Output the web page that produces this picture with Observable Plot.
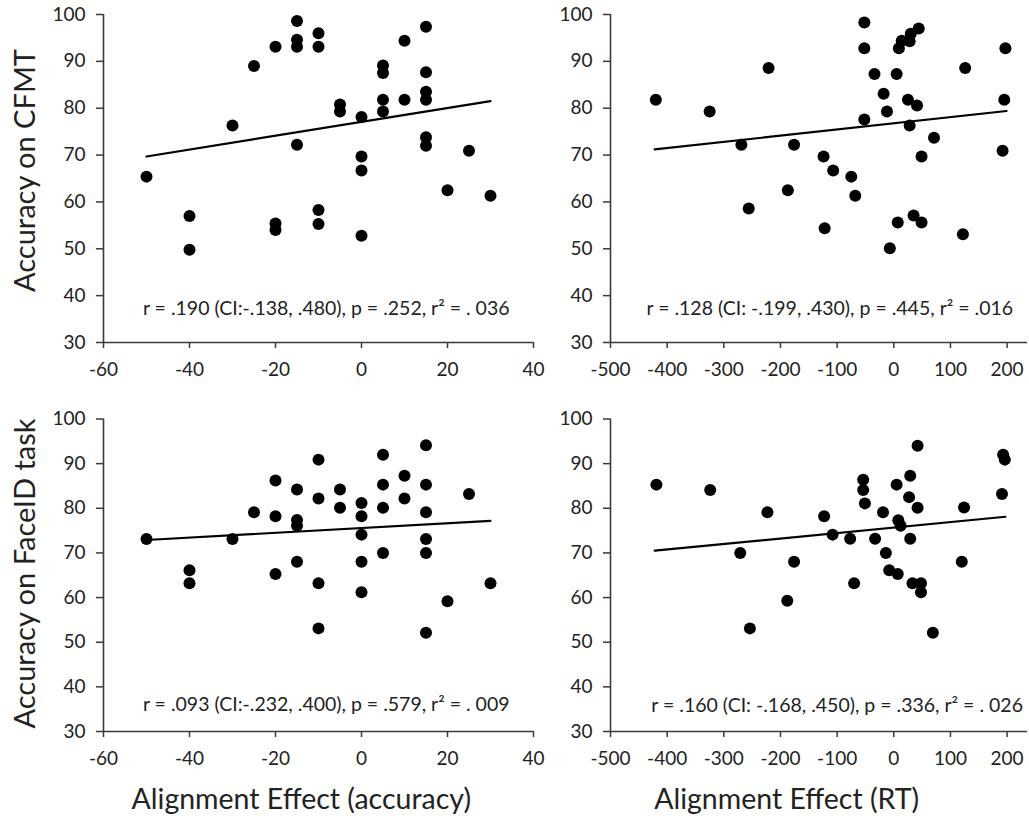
<!DOCTYPE html>
<html>
<head>
<meta charset="utf-8">
<script src="https://cdn.jsdelivr.net/npm/d3@7"></script>
<script src="https://cdn.jsdelivr.net/npm/@observablehq/plot@0.6"></script>
<style>
  body { margin: 0; background: #fff; }
  #wrap { position: relative; width: 1029px; height: 819px; overflow: hidden; background: #fff; }
  #wrap svg { position: absolute; overflow: visible; }
</style>
</head>
<body>
<div id="wrap"></div>
<script>
// ---------- data ----------
const yTicks = [30, 40, 50, 60, 70, 80, 90, 100];
const accTicks = [-60, -40, -20, 0, 20, 40];
const rtTicks = [-500, -400, -300, -200, -100, 0, 100, 200];

const yTitleTop = "Accuracy on CFMT";
const yTitleBottom = "Accuracy on FaceID task";
const xTitleLeft = "Alignment Effect (accuracy)";
const xTitleRight = "Alignment Effect (RT)";

const statTL = "r = .190 (CI:-.138, .480), p = .252, r² = . 036";
const statTR = "r = .128 (CI: -.199, .430), p = .445, r² = .016";
const statBL = "r = .093 (CI:-.232, .400), p = .579, r² = . 009";
const statBR = "r = .160 (CI: -.168, .450), p = .336, r² = . 026";

// top-left: alignment effect (accuracy) vs CFMT
const tlX = [-50,-40,-40,-30,-25,-20,-20,-20,-15,-15,-15,-15,-10,-10,-10,-10,-5,-5,0,0,0,0,5,5,5,5,10,10,15,15,15,15,15,15,20,25,30];
const tlY = [65.4,57.0,49.8,76.3,89.0,93.1,55.4,54.0,98.6,94.6,93.1,72.2,96.0,93.1,58.3,55.3,80.8,79.3,78.1,69.7,66.7,52.8,89.1,87.5,81.8,79.3,94.4,81.8,97.4,87.7,83.5,81.8,73.8,72.0,62.5,70.9,61.3];
const tlFitX = [-50, 30];
const tlFitY = [69.7, 81.5];

// top-right: alignment effect (RT) vs CFMT
const trX = [-420,-325,-269,-221,-176,-187,-124,-107,-75,-68,-52,-52,-52,-34,-18,-12,5,9,14,30,28,44,25,41,28,71,49,126,197,195,192,-256,-122,-7,7,35,49,122];
const trY = [81.8,79.3,72.2,88.6,72.2,62.5,69.7,66.7,65.4,61.3,98.3,92.8,77.6,87.3,83.1,79.3,87.3,92.8,94.4,95.9,94.3,97.0,81.8,80.6,76.3,73.7,69.7,88.6,92.8,81.8,70.9,58.6,54.4,50.1,55.6,57.1,55.6,53.1];
const trFitX = [-422, 199];
const trFitY = [71.2, 79.4];

// bottom-left: alignment effect (accuracy) vs FaceID
const blX = [-50,-40,-40,-30,-25,-20,-20,-20,-15,-15,-15,-15,-10,-10,-10,-10,-5,-5,0,0,0,0,0,5,5,5,5,10,10,15,15,15,15,15,15,20,25,30];
const blY = [73.1,66.1,63.2,73.1,79.1,86.2,78.2,65.3,84.2,77.4,76.1,68.0,90.9,82.2,63.2,53.1,84.2,80.1,81.2,78.2,74.1,68.0,61.2,92.0,85.3,80.1,70.0,87.3,82.2,94.1,85.3,79.1,73.1,70.0,52.1,59.2,83.2,63.2];
const blFitX = [-50, 30];
const blFitY = [72.9, 77.2];

// bottom-right: alignment effect (RT) vs FaceID
const brX = [-419,-324,-223,-271,-176,-188,-123,-108,-77,-70,-54,-54,-51,-33,-19,-14,-8,5,7,8,12,29,27,29,42,42,33,48,48,124,120,193,196,191,-254,69];
const brY = [85.3,84.1,79.1,70.0,68.0,59.3,78.2,74.1,73.2,63.2,86.4,84.1,81.1,73.2,79.1,70.0,66.1,85.3,65.3,77.3,76.1,87.3,82.5,73.2,94.0,80.1,63.2,63.2,61.2,80.2,68.0,92.0,90.9,83.2,53.1,52.1];
const brFitX = [-422, 197];
const brFitY = [70.5, 78.1];

// ---------- drawing ----------
const FONT = "Lato, 'Open Sans', sans-serif";
const AXIS = "#3a3a3a";
const zip = (xs, ys) => xs.map((x, i) => ({x, y: ys[i]}));

function panel(o) {
  const marks = [
    Plot.axisY({ticks: yTicks, tickSize: 7, tickPadding: 11, tickFormat: d => String(d), label: null, stroke: AXIS, strokeWidth: 1.5, fontSize: 19}),
    Plot.axisX({ticks: o.xTicks, tickSize: 6, tickPadding: 14, tickFormat: d => String(d), label: null, stroke: AXIS, strokeWidth: 1.5, fontSize: 19}),
    Plot.ruleY([30], {stroke: AXIS, strokeWidth: 1.6}),
    Plot.ruleX([o.xDomain[0]], {stroke: AXIS, strokeWidth: 1.6}),
    Plot.line(zip(o.fitX, o.fitY), {x: "x", y: "y", stroke: "#000", strokeWidth: 2.2}),
    Plot.dot(zip(o.xs, o.ys), {x: "x", y: "y", r: 6, fill: "#000", stroke: "none"}),
    Plot.text([o.stat], {x: o.statX, y: o.statY, fontSize: 19.5, fill: "#222", textAnchor: "middle", lineAnchor: "middle"})
  ];
  if (o.yTitle) marks.push(Plot.text([o.yTitle], {x: o.xDomain[0], y: o.yTitleY, dx: -78, rotate: -90, fontSize: 29, fill: "#222", textAnchor: "middle", lineAnchor: "middle"}));
  if (o.xTitle) marks.push(Plot.text([o.xTitle], {x: o.xTitleX, frameAnchor: "bottom", dy: 68, fontSize: 28.5, fill: "#222", textAnchor: "middle", lineAnchor: "middle"}));
  const svg = Plot.plot({
    width: o.width, height: o.height,
    marginLeft: o.ml, marginRight: o.mr, marginTop: o.mt, marginBottom: o.mb,
    style: {fontFamily: FONT, fontSize: "19px", color: "#222", background: "transparent", overflow: "visible"},
    x: {domain: o.xDomain},
    y: {domain: [30, 100]},
    marks
  });
  svg.style.left = o.left + "px";
  svg.style.top = o.top + "px";
  document.getElementById("wrap").appendChild(svg);
}

panel({left: 0, top: 0, width: 540, height: 390, ml: 103, mr: 7, mt: 14, mb: 48,
  xDomain: [-60, 40], xTicks: accTicks, xs: tlX, ys: tlY, fitX: tlFitX, fitY: tlFitY,
  stat: statTL, statX: -8.2, statY: 37.1, yTitle: yTitleTop, yTitleY: 66.7});
panel({left: 540, top: 0, width: 489, height: 390, ml: 70, mr: 2, mt: 14, mb: 48,
  xDomain: [-500, 236], xTicks: rtTicks, xs: trX, ys: trY, fitX: trFitX, fitY: trFitY,
  stat: statTR, statX: -113, statY: 37.3});
panel({left: 0, top: 380, width: 540, height: 439, ml: 103, mr: 7, mt: 38.5, mb: 88,
  xDomain: [-60, 40], xTicks: accTicks, xs: blX, ys: blY, fitX: blFitX, fitY: blFitY,
  stat: statBL, statX: -8.2, statY: 36.0, yTitle: yTitleBottom, yTitleY: 65.4, xTitle: xTitleLeft, xTitleX: -14});
panel({left: 540, top: 380, width: 489, height: 439, ml: 70, mr: 2, mt: 38.5, mb: 88,
  xDomain: [-500, 236], xTicks: rtTicks, xs: brX, ys: brY, fitX: brFitX, fitY: brFitY,
  stat: statBR, statX: -100, statY: 35.8, xTitle: xTitleRight, xTitleX: -189});
</script>
</body>
</html>
